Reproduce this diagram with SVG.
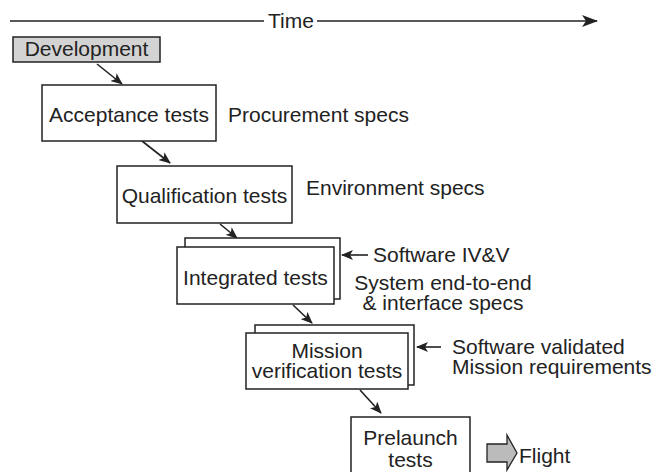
<svg xmlns="http://www.w3.org/2000/svg" width="652" height="472" viewBox="0 0 652 472">
<defs>
<style>
text{font-family:"Liberation Sans",Arial,sans-serif;font-size:21px;fill:#222}
.box{fill:#fff;stroke:#222;stroke-width:1.5}
.dev{fill:#d3d3d3;stroke:#222;stroke-width:1.5}
.ln{stroke:#222;stroke-width:1.6;fill:none}
.mid{text-anchor:middle}
</style>
<marker id="ah" viewBox="0 0 12 10" refX="11" refY="5" markerWidth="12" markerHeight="10" markerUnits="userSpaceOnUse" orient="auto">
<path d="M0,0 L12,5 L0,10 L3,5 z" fill="#222"/>
</marker>
<marker id="ahT" viewBox="0 0 16 12" refX="15" refY="6" markerWidth="16" markerHeight="12" markerUnits="userSpaceOnUse" orient="auto">
<path d="M0,0 L16,6 L0,12 L4,6 z" fill="#222"/>
</marker>
</defs>
<g id="time">
<line class="ln" x1="10" y1="21" x2="264" y2="21"/>
<text x="268" y="28">Time</text>
<line class="ln" x1="317" y1="21" x2="597" y2="21" marker-end="url(#ahT)"/>
</g>
<g id="connectors">
<line class="ln" x1="97" y1="64" x2="122" y2="84" marker-end="url(#ah)"/>
<line class="ln" x1="142" y1="141" x2="170" y2="163" marker-end="url(#ah)"/>
<line class="ln" x1="220" y1="224" x2="237" y2="238" marker-end="url(#ah)"/>
<line class="ln" x1="293" y1="305" x2="312" y2="323" marker-end="url(#ah)"/>
<line class="ln" x1="360" y1="390" x2="381" y2="413" marker-end="url(#ah)"/>
<line class="ln" x1="368" y1="255" x2="342" y2="255" marker-end="url(#ah)"/>
<line class="ln" x1="441" y1="347" x2="417" y2="347" marker-end="url(#ah)"/>
</g>
<g id="development">
<rect class="dev" x="13" y="37" width="147" height="25"/>
<text x="86.5" y="56" class="mid">Development</text>
</g>
<g id="acceptance">
<rect class="box" x="42" y="85" width="174" height="56"/>
<text x="129" y="122" class="mid">Acceptance tests</text>
</g>
<text x="228" y="122">Procurement specs</text>
<g id="qualification">
<rect class="box" x="117" y="166" width="175" height="57"/>
<text x="204.5" y="203" class="mid">Qualification tests</text>
</g>
<text x="306" y="195">Environment specs</text>
<g id="integrated">
<rect class="box" x="185" y="238" width="155" height="61"/>
<rect class="box" x="177" y="247" width="157" height="57"/>
<text x="255.5" y="285" class="mid">Integrated tests</text>
</g>
<text x="373" y="262">Software IV&amp;V</text>
<text x="443" y="290" class="mid">System end-to-end</text>
<text x="443" y="310" class="mid">&amp; interface specs</text>
<g id="mission">
<rect class="box" x="255" y="325" width="159" height="60"/>
<rect class="box" x="246" y="333" width="162" height="56"/>
<text x="327" y="358" class="mid">Mission</text>
<text x="327" y="378" class="mid">verification tests</text>
</g>
<text x="452" y="354">Software validated</text>
<text x="452" y="374">Mission requirements</text>
<g id="prelaunch">
<rect class="box" x="351" y="417" width="119" height="70"/>
<text x="410.5" y="445" class="mid">Prelaunch</text>
<text x="410.5" y="467" class="mid">tests</text>
</g>
<g id="flight">
<path d="M487,444 L507,444 L507,435 L517,453 L507,470 L507,462 L487,462 z" fill="#bbb" stroke="#222" stroke-width="1.3"/>
<text x="519" y="463">Flight</text>
</g>
</svg>
